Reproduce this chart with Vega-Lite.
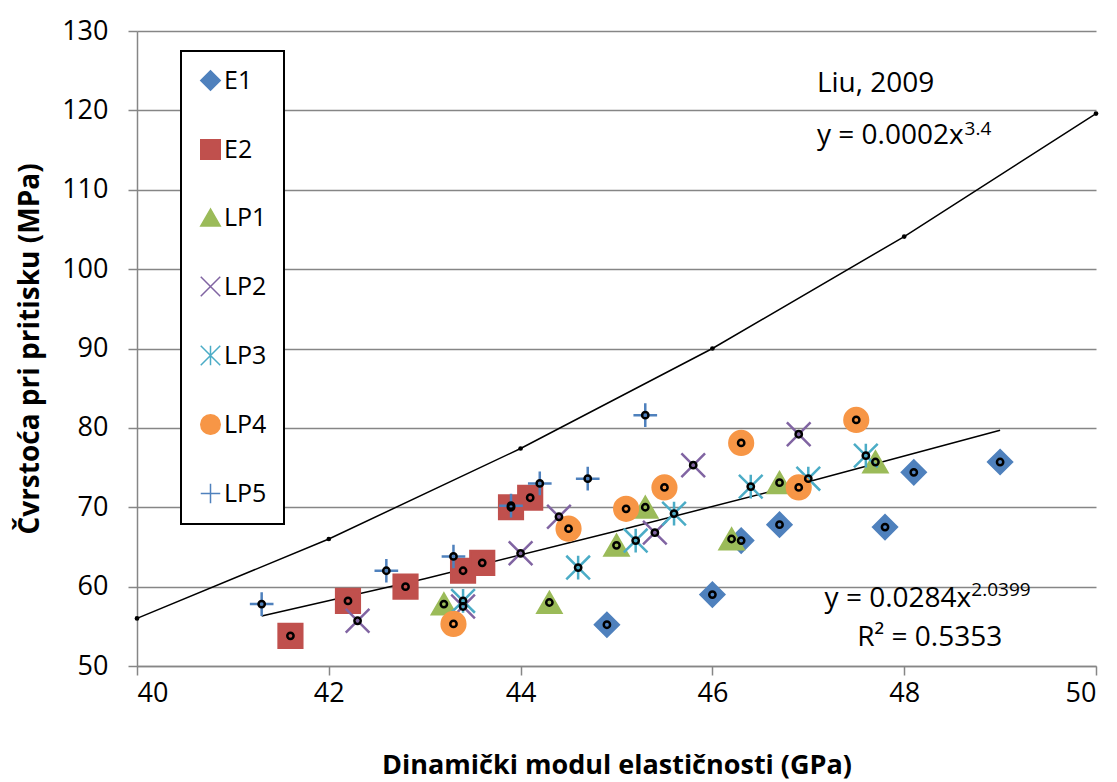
{
  "$schema": "https://vega.github.io/schema/vega-lite/v6.json",
  "width": 959,
  "height": 635,
  "autosize": "none",
  "padding": {"left": 137, "top": 31, "right": 21, "bottom": 116},
  "background": "white",
  "config": {
    "view": {"stroke": null},
    "font": "Open Sans",
    "axis": {
      "labelFont": "Open Sans", "labelFontSize": 27, "labelColor": "#000",
      "titleFont": "Open Sans", "titleFontSize": 27, "titleFontWeight": "bold", "titleColor": "#000",
      "domainColor": "#868686", "domainWidth": 1.5, "tickColor": "#868686", "tickWidth": 1.5, "tickSize": 9,
      "gridColor": "#868686", "gridWidth": 1.5
    },
    "legend": {
      "orient": "none", "legendX": 44, "legendY": 20,
      "strokeColor": "#000", "strokeWidth": 2, "fillColor": "#fff",
      "padding": 17, "rowPadding": 42, "labelFontSize": 25, "labelFont": "Open Sans", "labelColor": "#000",
      "symbolSize": 380, "symbolStrokeWidth": 1.5, "labelOffset": 1, "cornerRadius": 0
    }
  },
  "datasets": {
    "pts": [
      {"s": "E1", "x": 44.9, "y": 55.2}, {"s": "E1", "x": 46.0, "y": 59.0}, {"s": "E1", "x": 46.3, "y": 65.8},
      {"s": "E1", "x": 46.7, "y": 67.8}, {"s": "E1", "x": 47.8, "y": 67.5}, {"s": "E1", "x": 48.1, "y": 74.4},
      {"s": "E1", "x": 49.0, "y": 75.7},
      {"s": "E2", "x": 41.6, "y": 53.8}, {"s": "E2", "x": 42.2, "y": 58.2}, {"s": "E2", "x": 42.8, "y": 60.0},
      {"s": "E2", "x": 43.4, "y": 62.0}, {"s": "E2", "x": 43.6, "y": 63.0}, {"s": "E2", "x": 43.9, "y": 70.0},
      {"s": "E2", "x": 44.1, "y": 71.2},
      {"s": "LP1", "x": 43.2, "y": 57.8}, {"s": "LP1", "x": 44.3, "y": 58.0}, {"s": "LP1", "x": 45.0, "y": 65.2},
      {"s": "LP1", "x": 45.3, "y": 70.0}, {"s": "LP1", "x": 46.2, "y": 66.0}, {"s": "LP1", "x": 46.7, "y": 73.1},
      {"s": "LP1", "x": 47.7, "y": 75.7},
      {"s": "LP2", "x": 42.3, "y": 55.7}, {"s": "LP2", "x": 43.4, "y": 57.5}, {"s": "LP2", "x": 44.0, "y": 64.2},
      {"s": "LP2", "x": 44.4, "y": 68.8}, {"s": "LP2", "x": 45.4, "y": 66.8}, {"s": "LP2", "x": 45.8, "y": 75.3},
      {"s": "LP2", "x": 46.9, "y": 79.2},
      {"s": "LP3", "x": 43.4, "y": 58.2}, {"s": "LP3", "x": 44.6, "y": 62.4}, {"s": "LP3", "x": 45.2, "y": 65.8},
      {"s": "LP3", "x": 45.6, "y": 69.2}, {"s": "LP3", "x": 46.4, "y": 72.6}, {"s": "LP3", "x": 47.0, "y": 73.6},
      {"s": "LP3", "x": 47.6, "y": 76.5},
      {"s": "LP4", "x": 43.3, "y": 55.3}, {"s": "LP4", "x": 44.5, "y": 67.3}, {"s": "LP4", "x": 45.1, "y": 69.8},
      {"s": "LP4", "x": 45.5, "y": 72.5}, {"s": "LP4", "x": 46.3, "y": 78.1}, {"s": "LP4", "x": 46.9, "y": 72.5},
      {"s": "LP4", "x": 47.5, "y": 81.0},
      {"s": "LP5", "x": 41.3, "y": 57.8}, {"s": "LP5", "x": 42.6, "y": 62.0}, {"s": "LP5", "x": 43.3, "y": 63.8},
      {"s": "LP5", "x": 43.9, "y": 70.2}, {"s": "LP5", "x": 44.2, "y": 73.0}, {"s": "LP5", "x": 44.7, "y": 73.6},
      {"s": "LP5", "x": 45.3, "y": 81.6}
    ],
    "liu": [
      {"x": 40, "y": 56.0}, {"x": 42, "y": 66.0}, {"x": 44, "y": 77.4},
      {"x": 46, "y": 90.0}, {"x": 48, "y": 104.1}, {"x": 50, "y": 119.6}
    ],
    "trend": [
      {"x": 41.3, "y": 56.3}, {"x": 43, "y": 61.0}, {"x": 45, "y": 67.0}, {"x": 47, "y": 73.2}, {"x": 49, "y": 79.7}
    ],
    "notes": [
      {"t": "Liu, 2009", "x": 47.09, "y": 123.3, "k": "main"},
      {"t": "y = 0.0002x", "x": 47.09, "y": 116.8, "k": "main"},
      {"t": "3.4", "x": 48.63, "y": 117.6, "k": "sup"},
      {"t": "y = 0.0284x", "x": 47.17, "y": 58.4, "k": "main"},
      {"t": "2.0399", "x": 48.70, "y": 59.6, "k": "sup"},
      {"t": "R² = 0.5353", "x": 47.51, "y": 53.5, "k": "main"}
    ]
  },
  "layer": [
    {
      "data": {"name": "liu"},
      "mark": {"type": "line", "color": "#000", "strokeWidth": 1.5, "point": {"filled": true, "color": "#000", "size": 22}},
      "encoding": {
        "x": {"field": "x", "type": "quantitative", "scale": {"domain": [40, 50], "nice": false},
              "axis": {"values": [40, 42, 44, 46, 48, 50], "format": "d", "grid": false, "title": "Dinamički modul elastičnosti (GPa)", "labelPadding": 5, "titlePadding": 46}},
        "y": {"field": "y", "type": "quantitative", "scale": {"domain": [50, 130], "nice": false},
              "axis": {"values": [50, 60, 70, 80, 90, 100, 110, 120, 130], "format": "d", "grid": true, "title": "Čvrstoća pri pritisku (MPa)", "titleFontSize": 28, "labelPadding": 20, "titlePadding": 17}}
      }
    },
    {
      "data": {"name": "trend"},
      "mark": {"type": "line", "color": "#000", "strokeWidth": 1.5},
      "encoding": {
        "x": {"field": "x", "type": "quantitative"},
        "y": {"field": "y", "type": "quantitative"}
      }
    },
    {
      "data": {"name": "pts"},
      "mark": {"type": "point", "size": 560, "strokeWidth": 2.5, "opacity": 1},
      "encoding": {
        "x": {"field": "x", "type": "quantitative"},
        "y": {"field": "y", "type": "quantitative"},
        "shape": {"field": "s", "type": "nominal",
          "scale": {"domain": ["E1", "E2", "LP1", "LP2", "LP3", "LP4", "LP5"],
                    "range": ["diamond", "square", "triangle-up", "M-1,-1L1,1M-1,1L1,-1", "M-1,-1L1,1M-1,1L1,-1M0,-1L0,1", "circle", "M-1,0L1,0M0,-1L0,1"]},
          "legend": {"title": null}},
        "fill": {"field": "s", "type": "nominal",
          "scale": {"domain": ["E1", "E2", "LP1", "LP2", "LP3", "LP4", "LP5"],
                    "range": ["#4F81BD", "#C0504D", "#9BBB59", "transparent", "transparent", "#F79646", "transparent"]},
          "legend": {"title": null}},
        "stroke": {"field": "s", "type": "nominal",
          "scale": {"domain": ["E1", "E2", "LP1", "LP2", "LP3", "LP4", "LP5"],
                    "range": ["#4F81BD", "#C0504D", "#9BBB59", "#8064A2", "#4BACC6", "#F79646", "#4F81BD"]},
          "legend": {"title": null}}
      }
    },
    {
      "data": {"name": "pts"},
      "mark": {"type": "point", "shape": "circle", "filled": false, "color": "#000", "size": 40, "strokeWidth": 2.5, "opacity": 1},
      "encoding": {
        "x": {"field": "x", "type": "quantitative"},
        "y": {"field": "y", "type": "quantitative"}
      }
    },
    {
      "data": {"name": "notes"},
      "transform": [{"filter": "datum.k == 'main'"}],
      "mark": {"type": "text", "align": "left", "baseline": "middle", "fontSize": 28, "font": "Open Sans", "color": "#000"},
      "encoding": {
        "x": {"field": "x", "type": "quantitative"},
        "y": {"field": "y", "type": "quantitative"},
        "text": {"field": "t"}
      }
    },
    {
      "data": {"name": "notes"},
      "transform": [{"filter": "datum.k == 'sup'"}],
      "mark": {"type": "text", "align": "left", "baseline": "middle", "fontSize": 19, "font": "Open Sans", "color": "#000"},
      "encoding": {
        "x": {"field": "x", "type": "quantitative"},
        "y": {"field": "y", "type": "quantitative"},
        "text": {"field": "t"}
      }
    }
  ]
}
